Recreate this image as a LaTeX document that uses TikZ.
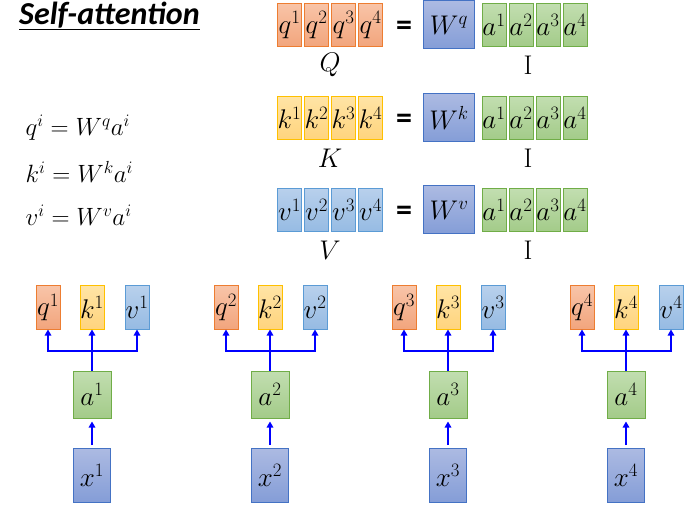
\RequirePackage{fix-cm}
\documentclass[tikz,border=0pt]{standalone}
\usepackage{fontspec}
\newfontfamily\calibri{Carlito}
\usetikzlibrary{arrows.meta}

\definecolor{qline}{RGB}{237,125,49}
\definecolor{qtop}{RGB}{248,196,168}
\definecolor{qbot}{RGB}{242,165,125}
\definecolor{kline}{RGB}{255,192,0}
\definecolor{ktop}{RGB}{255,228,165}
\definecolor{kbot}{RGB}{255,212,125}
\definecolor{vline}{RGB}{91,155,213}
\definecolor{vtop}{RGB}{184,208,236}
\definecolor{vbot}{RGB}{150,187,227}
\definecolor{aline}{RGB}{112,173,71}
\definecolor{atop}{RGB}{194,222,176}
\definecolor{abot}{RGB}{163,203,137}
\definecolor{wline}{RGB}{68,114,196}
\definecolor{wtop}{RGB}{172,186,226}
\definecolor{wbot}{RGB}{132,157,215}

\begin{document}
\begin{tikzpicture}[
  x=1pt, y=-1pt,
  >={Triangle[length=6pt,width=6.5pt]},
  cell/.style={draw, line width=1pt, minimum width=24pt, minimum height=43pt,
               inner sep=0pt, font=\fontsize{27}{30}\selectfont},
  qcell/.style={cell, draw=qline, top color=qtop, bottom color=qbot},
  kcell/.style={cell, draw=kline, top color=ktop, bottom color=kbot},
  vcell/.style={cell, draw=vline, top color=vtop, bottom color=vbot},
  acell/.style={cell, draw=aline, top color=atop, bottom color=abot},
  wcell/.style={cell, draw=wline, top color=wtop, bottom color=wbot},
  wmat/.style={wcell, minimum width=51pt, minimum height=48pt},
  abox/.style={acell, minimum width=38pt, minimum height=47pt},
  xbox/.style={wcell, minimum width=37pt, minimum height=54pt},
  link/.style={draw=blue, line width=1.8pt},
  eqsign/.style={font=\calibri\bfseries\fontsize{32}{34}\selectfont},
  lbl/.style={font=\fontsize{27}{30}\selectfont},
  rel/.style={anchor=west, font=\fontsize{25}{28}\selectfont}
]
\useasboundingbox (0,0) rectangle (690,518);

% ---------- judul ----------
\node[anchor=west, inner sep=0pt, font=\calibri\bfseries\itshape\fontsize{32}{34}\selectfont]
      (title) at (19,16) {\underline{Self-attention}};

% ---------- persamaan kiri ----------
\node[rel] (relq) at (22,128) {$q^i = W^q a^i$};
\node[rel] (relk) at (22,172) {$k^i = W^k a^i$};
\node[rel] (relv) at (22,215) {$v^i = W^v a^i$};

% ---------- baris matriks Q, K, V ----------
\foreach \m/\y/\lab in {q/25/Q, k/118/K, v/210/V} {
  \foreach \i in {1,2,3,4} {
    \node[\m cell] (\m-\i)  at ({262.5+27*\i},\y) {$\m^{\i}$};
    \node[acell]   (\m-a\i) at ({467+27*\i},\y)   {$a^{\i}$};
  }
  \node[eqsign] (eq\m) at (404,\y+3)  {=};
  \node[wmat]   (W\m)  at (449,\y)    {$W^{\m}$};
  \node[lbl]    (L\m)  at (330,\y+40) {$\lab$};
  \node[lbl]    (I\m)  at (528,\y+40) {I};
}

% ---------- kolom bawah: x -> a -> q, k, v ----------
\foreach \i/\c in {1/92, 2/270, 3/448, 4/626} {
  \node[qcell] (q\i) at ({\c-44},307.5) {$q^{\i}$};
  \node[kcell] (k\i) at (\c,307.5)      {$k^{\i}$};
  \node[vcell] (v\i) at ({\c+45},307.5) {$v^{\i}$};
  \node[abox]  (a\i) at (\c,394.5)      {$a^{\i}$};
  \node[xbox]  (x\i) at (\c,475.5)      {$x^{\i}$};
  \coordinate (j\i) at (\c,351);

  \draw[link, ->, shorten <=3pt, shorten >=3pt] (x\i) -- (a\i);
  \draw[link]     (a\i) -- (j\i);
  \draw[link, ->] (j\i) -- (k\i);
  \draw[link, ->] (j\i) -| (q\i);
  \draw[link, ->] (j\i) -| (v\i);
}

\end{tikzpicture}
\end{document}
